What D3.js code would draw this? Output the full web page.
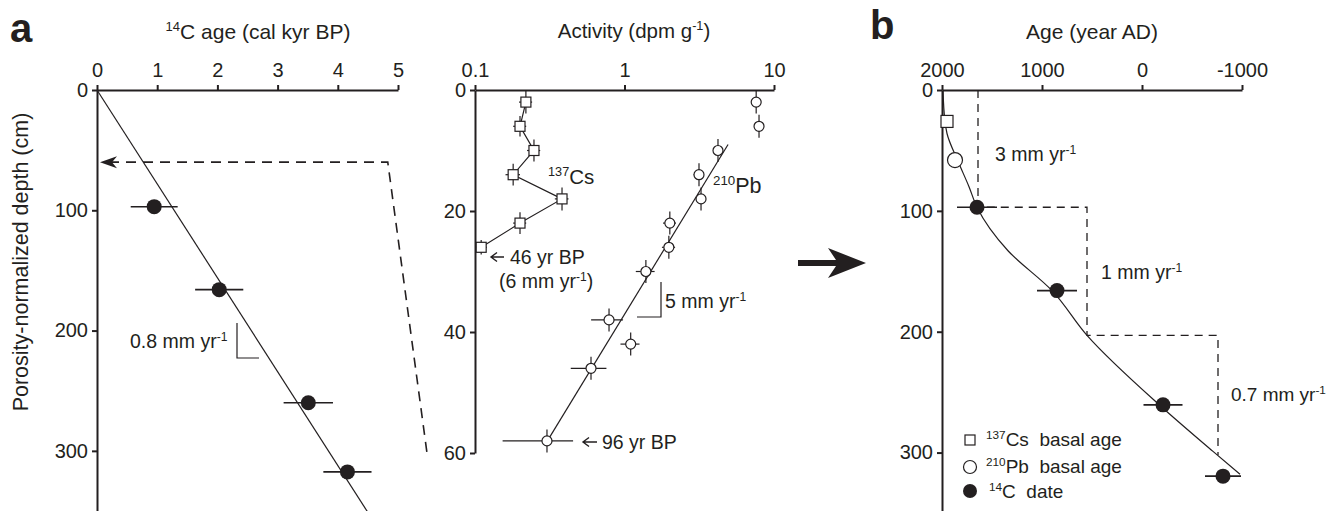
<!DOCTYPE html>
<html>
<head>
<meta charset="utf-8">
<script src="https://cdn.jsdelivr.net/npm/d3@7"></script>
<style>
body { margin: 0; background: #fff; }
svg { font-family: "Liberation Sans", Arial, sans-serif; }
.axis path, .axis line { stroke: #231f20; stroke-width: 2px; }
.axis text { font-size: 20px; fill: #231f20; font-family: "Liberation Sans", Arial, sans-serif; }
.lbl { font-size: 20px; fill: #231f20; }
</style>
</head>
<body>
<svg id="chart" width="1334" height="511"></svg>
<script>
// panel a (left) - 14C ages vs depth
var c14Age = [0.95, 2.03, 3.51, 4.16]
var c14AgeErr = [0.39, 0.4, 0.41, 0.4]
var c14Depth = [97, 166, 260, 317.5]
var fitAge = [0, 4.6]
var fitDepth = [0, 359]
var ageTicks = [0, 1, 2, 3, 4, 5]
var depthTicks = [0, 100, 200, 300]

// panel a (middle) - activity profiles
var csDepth = [2, 6, 10, 14, 18, 22, 26]
var csAct = [0.219, 0.2, 0.248, 0.18, 0.382, 0.2, 0.11]
var csActErr = [0.022, 0.02, 0.025, 0.02, 0.04, 0.02, 0.01]
var csDepthErr = [1.9, 1.7, 1.8, 1.8, 1.9, 1.8, 1.2]
var pbDepth = [2, 6, 10, 14, 18, 22, 26, 30, 38, 42, 46, 58]
var pbAct = [7.6, 7.94, 4.22, 3.15, 3.25, 2.01, 1.98, 1.39, 0.788, 1.1, 0.597, 0.303]
var pbActErr = [0.3, 0.3, 0.3, 0.25, 0.25, 0.2, 0.2, 0.2, 0.19, 0.16, 0.16, 0.15]
var pbDepthErr = [1.9, 1.9, 1.9, 1.9, 1.9, 1.9, 1.9, 1.9, 1.9, 1.9, 1.9, 1.9]
var pbFitDepth = [9, 58]
var pbFitAct = [4.93, 0.305]
var actTicks = [0.1, 1, 10]
var shallowTicks = [0, 20, 40, 60]

// panel b - age model
var yearTicks = [2000, 1000, 0, -1000]
var modelYear = [1990, 1970, 1950, 1840, 1730, 1650, 1340, 900, 550, -180, -710, -980]
var modelDepth = [0, 26, 36, 59, 80, 97, 133, 166, 203, 261, 299, 318]
var csBasalYear = 1950, csBasalDepth = 26
var pbBasalYear = 1870, pbBasalDepth = 58
var c14Year = [1650, 850, -210, -810]
var c14YearErr = [200, 200, 195, 180]
var c14DepthB = [97, 166, 260.5, 319.5]
var stepYear = [1640, 1640, 550, 550, -760, -760]
var stepDepth = [0, 97, 97, 203, 203, 302]

var ink = "#231f20"
var svg = d3.select("#chart")

// scales
var xA = d3.scaleLinear().domain([0, 5]).range([97, 398])
var yA = d3.scaleLinear().domain([0, 350]).range([90, 511])
var xM = d3.scaleLog().domain([0.1, 10]).range([475, 774])
var yM = d3.scaleLinear().domain([0, 60]).range([90, 453])
var xB = d3.scaleLinear().domain([2000, -1000]).range([942, 1242])
var yB = d3.scaleLinear().domain([0, 350]).range([90, 513])

function topAxis(scale, ticks, fmt) {
    svg.append("g")
        .attr("class", "axis")
        .attr("transform", "translate(0," + 90 + ")")
        .call(d3.axisTop(scale).tickValues(ticks).tickSize(5).tickPadding(8).tickSizeOuter(0).tickFormat(fmt))
}
function leftAxis(scale, x, ticks) {
    svg.append("g")
        .attr("class", "axis")
        .attr("transform", "translate(" + x + ",0)")
        .call(d3.axisLeft(scale).tickValues(ticks).tickSize(5).tickPadding(4).tickSizeOuter(0).tickFormat(d => String(d)))
}
topAxis(xA, ageTicks, d => String(d))
leftAxis(yA, 97, depthTicks)
topAxis(xM, actTicks, d => String(d))
leftAxis(yM, 475, shallowTicks)
topAxis(xB, yearTicks, d => String(d))
leftAxis(yB, 942, depthTicks)
svg.selectAll(".axis .domain").attr("stroke-width", 2.2)

// text with superscripts: parts = [[text, sup?], ...]
function richText(x, y, parts, size, anchor) {
    var t = svg.append("text")
        .attr("class", "lbl")
        .attr("x", x).attr("y", y)
        .style("font-size", size + "px")
        .style("white-space", "pre")
        .attr("text-anchor", anchor || "start")
    var up = false
    parts.forEach(function (p) {
        var s = t.append("tspan").text(p[0])
        if (p[1] && !up) { s.attr("dy", -size * 0.38).style("font-size", (size * 0.62) + "px"); up = true }
        else if (p[1]) { s.style("font-size", (size * 0.62) + "px") }
        else if (up) { s.attr("dy", size * 0.38); up = false }
    })
    return t
}

// small left-pointing arrow used in annotations
function leftArrow(tip, y, len) {
    svg.append("path")
        .attr("d", "M" + (tip + len) + "," + y + "H" + tip + "M" + (tip + 6) + "," + (y - 4.5) + "L" + tip + "," + y + "L" + (tip + 6) + "," + (y + 4.5))
        .attr("fill", "none").attr("stroke", ink).attr("stroke-width", 1.4)
}

// titles
svg.append("text").attr("x", 10).attr("y", 42).text("a")
    .style("font-size", "40px").style("font-weight", "bold").attr("fill", ink)
svg.append("text").attr("x", 870).attr("y", 39).text("b")
    .style("font-size", "40px").style("font-weight", "bold").attr("fill", ink)
richText(258, 39, [["14", true], ["C age (cal kyr BP)", false]], 21, "middle")
richText(634, 38, [["Activity (dpm g", false], ["-1", true], [")", false]], 20.5, "middle")
richText(1092, 39, [["Age (year AD)", false]], 21, "middle")
svg.append("text").attr("class", "lbl")
    .attr("transform", "translate(20,262) rotate(-90)")
    .attr("text-anchor", "middle").attr("dy", "0.35em")
    .style("font-size", "21.5px")
    .text("Porosity-normalized depth (cm)")

// ---- panel a left ----
svg.append("path")
    .datum(d3.range(fitAge.length))
    .attr("d", d3.line().x(i => xA(fitAge[i])).y(i => yA(fitDepth[i])))
    .attr("fill", "none").attr("stroke", ink).attr("stroke-width", 1.2)

c14Age.forEach(function (a, i) {
    svg.append("line")
        .attr("x1", xA(a - c14AgeErr[i])).attr("x2", xA(a + c14AgeErr[i]))
        .attr("y1", yA(c14Depth[i])).attr("y2", yA(c14Depth[i]))
        .attr("stroke", ink).attr("stroke-width", 1.6)
    svg.append("circle")
        .attr("cx", xA(a)).attr("cy", yA(c14Depth[i])).attr("r", 7.5)
        .attr("fill", ink)
})

// rate bracket 0.8 mm/yr
svg.append("path")
    .attr("d", "M" + 237 + "," + 323 + "V" + 358 + "H" + 259)
    .attr("fill", "none").attr("stroke", ink).attr("stroke-width", 1.2)
richText(130, 348, [["0.8 mm yr", false], ["-1", true]], 19.5)

// dashed link from shallow panel to 60 cm
svg.append("path")
    .attr("d", "M" + (xA(0) + 12) + "," + yA(60) + "H" + xA(4.83) + "L" + (xM(0.1) - 48) + "," + yM(60))
    .attr("fill", "none").attr("stroke", ink).attr("stroke-width", 1.6)
    .attr("stroke-dasharray", "10,7")
svg.append("path")
    .attr("d", "M" + (xA(0) + 3) + "," + yA(60) + "l17,-6l-5,6l5,6z")
    .attr("fill", ink)

// ---- panel a middle ----
var lineM = d3.line().x(d => xM(d[0])).y(d => yM(d[1]))
svg.append("path")
    .datum(csAct.map((a, i) => [a, csDepth[i]]))
    .attr("d", lineM)
    .attr("fill", "none").attr("stroke", ink).attr("stroke-width", 1.2)
svg.append("path")
    .datum(pbFitAct.map((a, i) => [a, pbFitDepth[i]]))
    .attr("d", lineM)
    .attr("fill", "none").attr("stroke", ink).attr("stroke-width", 1.2)

function errCross(x, y, xl, xr, yt, yb) {
    svg.append("line").attr("x1", xl).attr("x2", xr).attr("y1", y).attr("y2", y)
        .attr("stroke", ink).attr("stroke-width", 1.2)
    svg.append("line").attr("x1", x).attr("x2", x).attr("y1", yt).attr("y2", yb)
        .attr("stroke", ink).attr("stroke-width", 1.2)
}
csAct.forEach(function (a, i) {
    var x = xM(a), y = yM(csDepth[i])
    errCross(x, y, xM(a - csActErr[i]), xM(a + csActErr[i]), yM(csDepth[i] - csDepthErr[i]), yM(csDepth[i] + csDepthErr[i]))
    svg.append("rect").attr("x", x - 5).attr("y", y - 5).attr("width", 10).attr("height", 10)
        .attr("fill", "#fff").attr("stroke", ink).attr("stroke-width", 1.2)
})
pbAct.forEach(function (a, i) {
    var x = xM(a), y = yM(pbDepth[i])
    errCross(x, y, xM(a - pbActErr[i]), xM(a + pbActErr[i]), yM(pbDepth[i] - pbDepthErr[i]), yM(pbDepth[i] + pbDepthErr[i]))
    svg.append("circle").attr("cx", x).attr("cy", y).attr("r", 5)
        .attr("fill", "#fff").attr("stroke", ink).attr("stroke-width", 1.2)
})

richText(548, 184, [["137", true], ["Cs", false]], 20.5)
richText(713, 193, [["210", true], ["Pb", false]], 21.5)
leftArrow(491, 257, 13)
richText(510, 264, [["46 yr BP", false]], 19.5)
richText(499, 288, [["(6 mm yr", false], ["-1", true], [")", false]], 19.5)
leftArrow(583, 442, 14)
richText(602, 449, [["96 yr BP", false]], 19.5)
svg.append("path")
    .attr("d", "M" + 661 + "," + 282 + "V" + 317 + "H" + 637)
    .attr("fill", "none").attr("stroke", ink).attr("stroke-width", 1.2)
richText(665, 308, [["5 mm yr", false], ["-1", true]], 19.5)

// big arrow between panels
svg.append("path")
    .attr("d", "M798,260H836L828,248L866,263L828,278L836,266H798Z")
    .attr("fill", ink)

// ---- panel b ----
svg.append("path")
    .datum(stepYear.map((y, i) => [y, stepDepth[i]]))
    .attr("d", d3.line().x(d => xB(d[0])).y(d => yB(d[1])))
    .attr("fill", "none").attr("stroke", ink).attr("stroke-width", 1.3)
    .attr("stroke-dasharray", "8,6")
svg.append("path")
    .datum(modelYear.map((y, i) => [y, modelDepth[i]]))
    .attr("d", d3.line().curve(d3.curveMonotoneY).x(d => xB(d[0])).y(d => yB(d[1])))
    .attr("fill", "none").attr("stroke", ink).attr("stroke-width", 1.2)

c14Year.forEach(function (yr, i) {
    svg.append("line")
        .attr("x1", xB(yr + c14YearErr[i])).attr("x2", xB(yr - c14YearErr[i]))
        .attr("y1", yB(c14DepthB[i])).attr("y2", yB(c14DepthB[i]))
        .attr("stroke", ink).attr("stroke-width", 1.6)
    svg.append("circle").attr("cx", xB(yr)).attr("cy", yB(c14DepthB[i])).attr("r", 7.5)
        .attr("fill", ink)
})
svg.append("rect")
    .attr("x", xB(csBasalYear) - 6).attr("y", yB(csBasalDepth) - 6).attr("width", 12).attr("height", 12)
    .attr("fill", "#fff").attr("stroke", ink).attr("stroke-width", 1.2)
svg.append("circle")
    .attr("cx", xB(pbBasalYear)).attr("cy", yB(pbBasalDepth)).attr("r", 7.5)
    .attr("fill", "#fff").attr("stroke", ink).attr("stroke-width", 1.2)

richText(995, 161, [["3 mm yr", false], ["-1", true]], 19.5)
richText(1101, 279, [["1 mm yr", false], ["-1", true]], 19.5)
richText(1231, 401, [["0.7 mm yr", false], ["-1", true]], 19)

// legend
svg.append("rect").attr("x", 965).attr("y", 435).attr("width", 10).attr("height", 10)
    .attr("fill", "#fff").attr("stroke", ink).attr("stroke-width", 1.2)
richText(986, 446, [["137", true], ["Cs  basal age", false]], 19)
svg.append("circle").attr("cx", 970).attr("cy", 467).attr("r", 6.5)
    .attr("fill", "#fff").attr("stroke", ink).attr("stroke-width", 1.2)
richText(986, 473, [["210", true], ["Pb  basal age", false]], 19)
svg.append("circle").attr("cx", 970).attr("cy", 491).attr("r", 7)
    .attr("fill", ink)
richText(989, 498, [["14", true], ["C  date", false]], 19)
</script>
</body>
</html>
